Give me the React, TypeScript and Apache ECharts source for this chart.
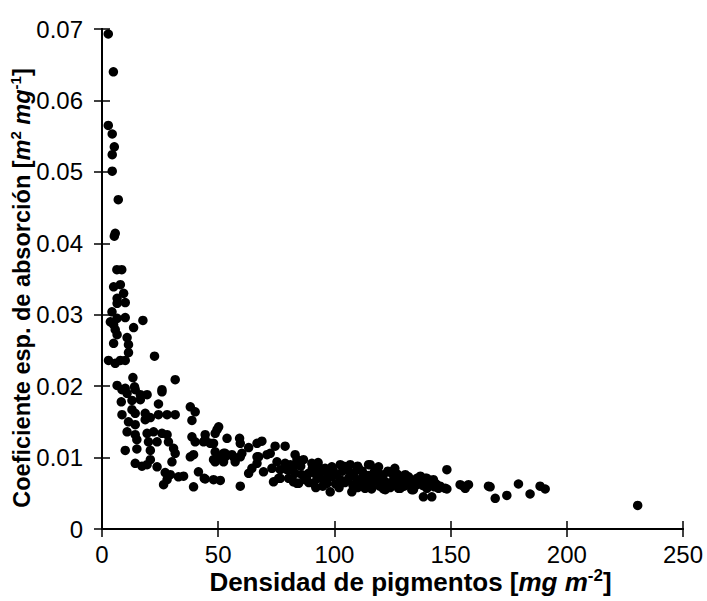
import React, { useEffect, useRef } from "react";
import * as echarts from "echarts";

const xRange = { min: 0, max: 250, step: 50 };
const yRange = { min: 0, max: 0.07, step: 0.01 };

const xTitle = "Densidad de pigmentos [";
const xTitleUnit = "mg m";
const xTitleExp = "-2";
const yTitleStart = "Coeficiente esp. de absorción [";
const yTitleUnitA = "m";
const yTitleExpA = "2";
const yTitleUnitB = " mg";
const yTitleExpB = "-1";

// densidad (mg m-2), coeficiente (m2 mg-1)
const grupoAlto: [number, number][] = [
  [2.7, 0.0693], [4.9, 0.064], [2.7, 0.0565], [4.4, 0.0553], [5.3, 0.0535], [4.4, 0.0524],
  [4.4, 0.0501], [7.0, 0.0461], [5.7, 0.0414], [5.3, 0.041], [6.4, 0.0363], [8.5, 0.0363],
  [5.0, 0.0339], [7.9, 0.0342], [9.3, 0.033], [6.5, 0.0323], [10, 0.0317], [6.5, 0.0316],
  [4.3, 0.0304], [10, 0.0296], [6.5, 0.0295], [3.6, 0.029], [5, 0.0286], [5.7, 0.0279],
  [17.6, 0.0292], [13.6, 0.0282], [6.5, 0.0272], [10.8, 0.0268], [11.4, 0.0258], [5.0, 0.026],
  [11.4, 0.0247], [22.6, 0.0242], [2.8, 0.0236], [5.7, 0.0232], [7.9, 0.0236], [10, 0.0236],
  [13.3, 0.0212], [31.5, 0.0209], [6.5, 0.0201], [10, 0.0197], [14, 0.0199], [25.8, 0.0195],
];

const grupoBajo: [number, number][] = [
  [8.6, 0.0195], [10.8, 0.019], [14.3, 0.0195], [16.5, 0.0188], [19.4, 0.0188], [25.8, 0.0192],
  [8.3, 0.0178], [12.9, 0.018], [16.5, 0.0181], [24.3, 0.0175], [38, 0.0171], [40.1, 0.0164],
  [12.9, 0.0167], [14.3, 0.0162], [8.6, 0.016], [18.6, 0.0162], [20.8, 0.0156], [24.3, 0.016],
  [28, 0.016], [31.5, 0.016], [11.4, 0.015], [14.3, 0.0146], [18.6, 0.0153], [38.7, 0.0152],
  [50.2, 0.0143], [10.8, 0.0136], [14.3, 0.0132], [19.4, 0.0134], [22.2, 0.0136], [25.8, 0.0134],
  [28, 0.0132], [38.7, 0.0129], [44.4, 0.0132], [48.7, 0.0134], [15, 0.0125], [20, 0.0122],
  [23.7, 0.0122], [28.6, 0.0122], [40.1, 0.0122], [43.7, 0.0122], [46.6, 0.012], [10, 0.011],
  [15, 0.0112], [20.8, 0.011], [30.8, 0.0113], [31.5, 0.0106], [48.7, 0.0108], [53, 0.0106],
  [55.9, 0.0104], [38, 0.0101], [39.4, 0.0104], [20.8, 0.0097], [30.1, 0.0094], [14.3, 0.0092],
  [17.2, 0.0088], [19.4, 0.009], [23.7, 0.0087], [48, 0.0097], [50.2, 0.0099], [52.3, 0.0094],
  [27.2, 0.0079], [29.4, 0.0076], [32.9, 0.0073], [35.1, 0.0074], [41.5, 0.008], [44.4, 0.007],
  [48, 0.0069], [50.9, 0.0068], [28, 0.0069], [26.5, 0.0062], [39.4, 0.0059],
];

const grupoMedio: [number, number][] = [
  [49.5, 0.0139], [48, 0.012], [44.4, 0.0125], [53.8, 0.0127], [59.2, 0.0127], [59.5, 0.012],
  [63.1, 0.0114], [66.7, 0.012], [68.8, 0.0123], [74.5, 0.0116], [78.8, 0.0116], [52.3, 0.0106],
  [53, 0.0101], [56.6, 0.0101], [59.5, 0.0101], [60.2, 0.0106], [48.7, 0.0094], [57.3, 0.0094],
  [66.7, 0.0101], [71, 0.0104], [72.4, 0.0106], [75.3, 0.0094], [78.8, 0.0092], [81, 0.009],
  [64.5, 0.0085], [63.1, 0.0078], [69.5, 0.008], [73.1, 0.0085], [76.7, 0.0083], [79.6, 0.0083],
  [82.4, 0.0087], [83.9, 0.0092], [44.0, 0.0071], [59.5, 0.006], [73.8, 0.0066], [76.7, 0.0071],
  [80.3, 0.0071], [82.4, 0.0066], [84.6, 0.0064], [66.7, 0.0092], [67.4, 0.0101],
];

const grupoDenso: [number, number][] = [
  [83.1, 0.0104], [83.9, 0.0097], [86.7, 0.0097], [90.3, 0.0092], [93.2, 0.0087], [96, 0.0085],
  [98.9, 0.0087], [102.5, 0.009], [106.8, 0.009], [110.4, 0.0085], [114.7, 0.009], [81, 0.0083],
  [83.1, 0.0078], [86, 0.0076], [88.9, 0.0078], [91.7, 0.0078], [76, 0.0071], [83.9, 0.0064],
  [87.4, 0.0069], [91, 0.0064], [95.3, 0.0069], [96.8, 0.0064], [98.9, 0.0073], [102.5, 0.0069],
  [106.1, 0.0071], [109.7, 0.0069], [113.2, 0.0071], [116.8, 0.0073], [98.2, 0.0052], [107.5, 0.0052],
  [113.2, 0.0057], [109.7, 0.0083], [112.5, 0.0076], [116.8, 0.0078], [121.1, 0.0076], [124.7, 0.0078],
  [128.3, 0.0074], [131.9, 0.0073], [135.5, 0.0071], [139.8, 0.0071], [142.6, 0.0069], [121.1, 0.0056],
  [128.3, 0.0057], [134, 0.0055], [139.8, 0.0057], [144.8, 0.0057], [148.4, 0.0056], [138.3, 0.0045],
  [141.9, 0.0045], [148.4, 0.0083], [124.7, 0.008], [130.5, 0.0076], [147.7, 0.0057], [143.4, 0.0064],
  [139.1, 0.0071], [121.9, 0.0055], [127.6, 0.0057], [133.3, 0.0055], [115.4, 0.009], [119, 0.0078],
  [88.0, 0.0072], [90.5, 0.0085], [92.5, 0.007], [94.0, 0.008], [95.0, 0.006], [97.0, 0.0078],
  [99.5, 0.0082], [100.5, 0.0063], [101.0, 0.0076], [103.5, 0.0081], [104.5, 0.0065], [105.0, 0.0086],
  [107.0, 0.0078], [108.0, 0.0061], [108.5, 0.0074], [110.0, 0.0088], [111.0, 0.0066], [112.0, 0.0081],
  [113.5, 0.0062], [114.5, 0.0075], [116.0, 0.0064], [117.5, 0.0084], [118.5, 0.0068], [119.5, 0.006],
  [120.0, 0.0073], [122.0, 0.0066], [123.0, 0.0081], [123.5, 0.0061], [125.5, 0.0069], [126.5, 0.0063],
  [127.0, 0.0077], [129.0, 0.0066], [130.0, 0.006], [131.0, 0.007], [132.5, 0.0063], [133.5, 0.0068],
  [135.0, 0.0061], [136.0, 0.0066], [137.0, 0.0074], [138.0, 0.0061], [139.0, 0.0066], [140.5, 0.0062],
  [141.5, 0.0068], [143.0, 0.0059], [144.0, 0.0062], [145.5, 0.006], [126.0, 0.0085], [119.0, 0.0087],
  [104.0, 0.0088], [93.0, 0.0093], [85.5, 0.0088], [89.0, 0.0065], [92.0, 0.0058], [102.0, 0.0058],
  [110.0, 0.0058], [116.0, 0.0056], [124.0, 0.0058],
];

const grupoCola: [number, number][] = [
  [154.1, 0.0062], [156.3, 0.0057], [157.7, 0.0062], [155.5, 0.006], [167, 0.0059], [166.3, 0.006],
  [169.2, 0.0043], [174.2, 0.0047], [179.2, 0.0063], [184.2, 0.0049], [188.5, 0.006], [190.7, 0.0056],
  [230.5, 0.0033],
];

const puntos = [...grupoAlto, ...grupoBajo, ...grupoMedio, ...grupoDenso, ...grupoCola];

const FONT = "'Liberation Sans', Arial, Helvetica, sans-serif";

export default function App() {
  const ref = useRef<HTMLDivElement>(null);
  useEffect(() => {
    if (!ref.current) return;
    const chart = echarts.init(ref.current, undefined, { renderer: "svg" });
    const axisLine = { show: true, lineStyle: { color: "#000", width: 2 } };
    const tick = { show: true, inside: true, length: 8, lineStyle: { color: "#000", width: 1.5 } };
    const labelStyle = { color: "#000", fontSize: 24, fontFamily: FONT };
    const makeRich = (size: number, sup: number, lh: number) => ({
      b: { fontSize: size, fontWeight: "bold" as const, fontFamily: FONT, color: "#000", lineHeight: lh },
      i: { fontSize: size, fontWeight: "bold" as const, fontStyle: "italic" as const, fontFamily: FONT, color: "#000", lineHeight: lh },
      s: { fontSize: sup, fontWeight: "bold" as const, fontFamily: FONT, color: "#000", verticalAlign: "top" as const, lineHeight: lh },
    });
    chart.setOption({
      animation: false,
      backgroundColor: "#fff",
      grid: { left: 102, right: 24, top: 29, bottom: 72, containLabel: false, outerBoundsMode: "none" },
      xAxis: [
        {
          type: "value",
          min: xRange.min,
          max: xRange.max,
          interval: xRange.step,
          position: "bottom",
          axisLine,
          axisTick: tick,
          splitLine: { show: false },
          axisLabel: { ...labelStyle, margin: 13 },
          name: `{b|${xTitle}}{i|${xTitleUnit}}{s|${xTitleExp}}{b|]}`,
          nameLocation: "middle",
          nameGap: 38,
          nameMoveOverlap: false,
          nameTextStyle: { rich: makeRich(26, 17, 30), padding: [0, 0, 0, 36] },
        },
        {
          type: "value",
          min: xRange.min,
          max: xRange.max,
          interval: xRange.step,
          position: "top",
          axisLine,
          axisTick: tick,
          splitLine: { show: false },
          axisLabel: { show: false },
        },
      ],
      yAxis: [
        {
          type: "value",
          min: yRange.min,
          max: yRange.max,
          interval: yRange.step,
          position: "left",
          axisLine,
          axisTick: tick,
          splitLine: { show: false },
          axisLabel: {
            ...labelStyle,
            margin: 19,
            formatter: (v: number) => (v === 0 ? "0" : v.toFixed(2)),
          },
          name: `{b|${yTitleStart}}{i|${yTitleUnitA}}{s|${yTitleExpA}}{i|${yTitleUnitB}}{s|${yTitleExpB}}{b|]}`,
          nameLocation: "middle",
          nameGap: 67,
          nameMoveOverlap: false,
          nameRotate: 90,
          nameTextStyle: { rich: makeRich(23.5, 15, 27), padding: [0, 18, 0, 0] },
        },
        {
          type: "value",
          min: yRange.min,
          max: yRange.max,
          interval: yRange.step,
          position: "right",
          axisLine,
          axisTick: tick,
          splitLine: { show: false },
          axisLabel: { show: false },
        },
      ],
      series: [
        {
          type: "scatter",
          xAxisIndex: 0,
          yAxisIndex: 0,
          data: puntos,
          symbol: "circle",
          symbolSize: 9.5,
          itemStyle: { color: "#000", opacity: 1 },
          emphasis: { disabled: true },
        },
      ],
    });
    return () => chart.dispose();
  }, []);
  return (
    <div
      ref={ref}
      style={{ position: "fixed", left: 0, top: 0, width: 707, height: 601, background: "#fff" }}
    />
  );
}
